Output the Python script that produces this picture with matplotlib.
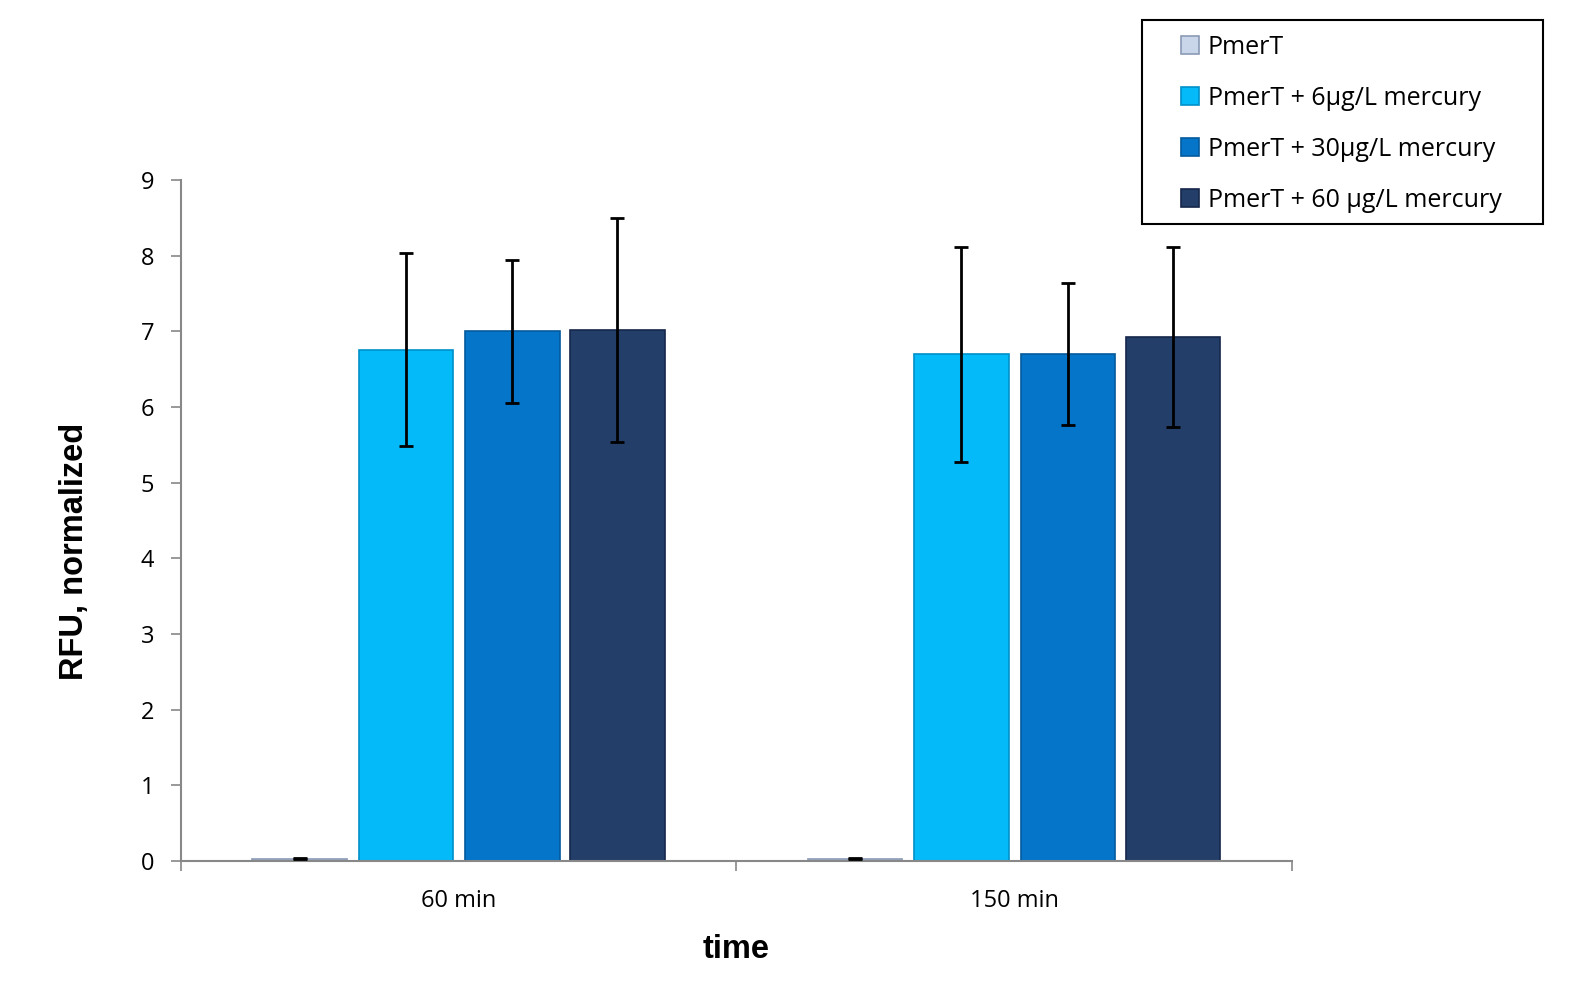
import numpy as np
import matplotlib.pyplot as plt
from matplotlib.patches import Rectangle

plt.rcParams['font.family'] = ['Open Sans', 'DejaVu Sans']

times = ["60 min", "150 min"]
series = ["PmerT", "PmerT + 6µg/L mercury", "PmerT + 30µg/L mercury", "PmerT + 60 µg/L mercury"]
values = [[0.03, 0.03],
          [6.76, 6.70],
          [7.00, 6.70],
          [7.02, 6.92]]
errors = [[0.01, 0.01],
          [1.28, 1.42],
          [0.94, 0.94],
          [1.48, 1.19]]
colors = ["#c9d6ea", "#05baf8", "#0575c9", "#243e6a"]
edges = ["#8a9ab5", "#0090c8", "#035a9c", "#15264a"]

fig = plt.figure(figsize=(15.86, 9.84), dpi=100)
ax = fig.add_axes([0.114, 0.125, 0.7006, 0.692])

x = np.arange(len(times))
offsets = [-0.286, -0.095, 0.097, 0.286]
w = 0.17
for i in range(len(series)):
    ax.bar(x + offsets[i], values[i], w, color=colors[i], edgecolor=edges[i],
           linewidth=1.2, label=series[i], zorder=2)
    ax.errorbar(x + offsets[i], values[i], yerr=errors[i], fmt='none',
                ecolor='black', elinewidth=2, capsize=5, capthick=2, zorder=3)

ax.set_xlim(-0.5, 1.5)
ax.set_ylim(0, 9)
ax.set_yticks(range(10))
ax.set_xticks([-0.5, 0.5, 1.5])
ax.set_xticklabels([])
ax.set_xticks(x, minor=True)
ax.set_xticklabels(times, minor=True)
ax.tick_params(axis='x', which='minor', length=0, pad=20, labelsize=17)
ax.tick_params(axis='x', which='major', length=7, color='#888888', width=1.2)
ax.tick_params(axis='y', length=7, color='#888888', width=1.2, labelsize=17, pad=12)

for s in ['top', 'right']:
    ax.spines[s].set_visible(False)
for s in ['left', 'bottom']:
    ax.spines[s].set_color('#888888')
    ax.spines[s].set_linewidth(1.5)

ax.set_ylabel("RFU, normalized", fontsize=23.5, fontweight='bold',
              family=['Liberation Sans', 'DejaVu Sans'])
ax.yaxis.set_label_coords(-0.082, 0.455)
ax.set_xlabel("time", fontsize=23.5, fontweight='bold',
              family=['Liberation Sans', 'DejaVu Sans'], labelpad=15)

# legend frame drawn separately so the padding matches the original box
fig.patches.append(Rectangle((1142/1586, 1 - 224/984), 401/1586, 204/984,
                             transform=fig.transFigure, fill=False,
                             edgecolor='black', linewidth=1.5))
leg = fig.legend(loc='upper left', bbox_to_anchor=(1181/1586, 1 - 35/984),
                 fontsize=18, frameon=False,
                 handlelength=0.72, handleheight=0.72, labelspacing=1.04,
                 borderpad=0, handletextpad=0.35, borderaxespad=0)

fig.savefig("out.png", dpi=100)
